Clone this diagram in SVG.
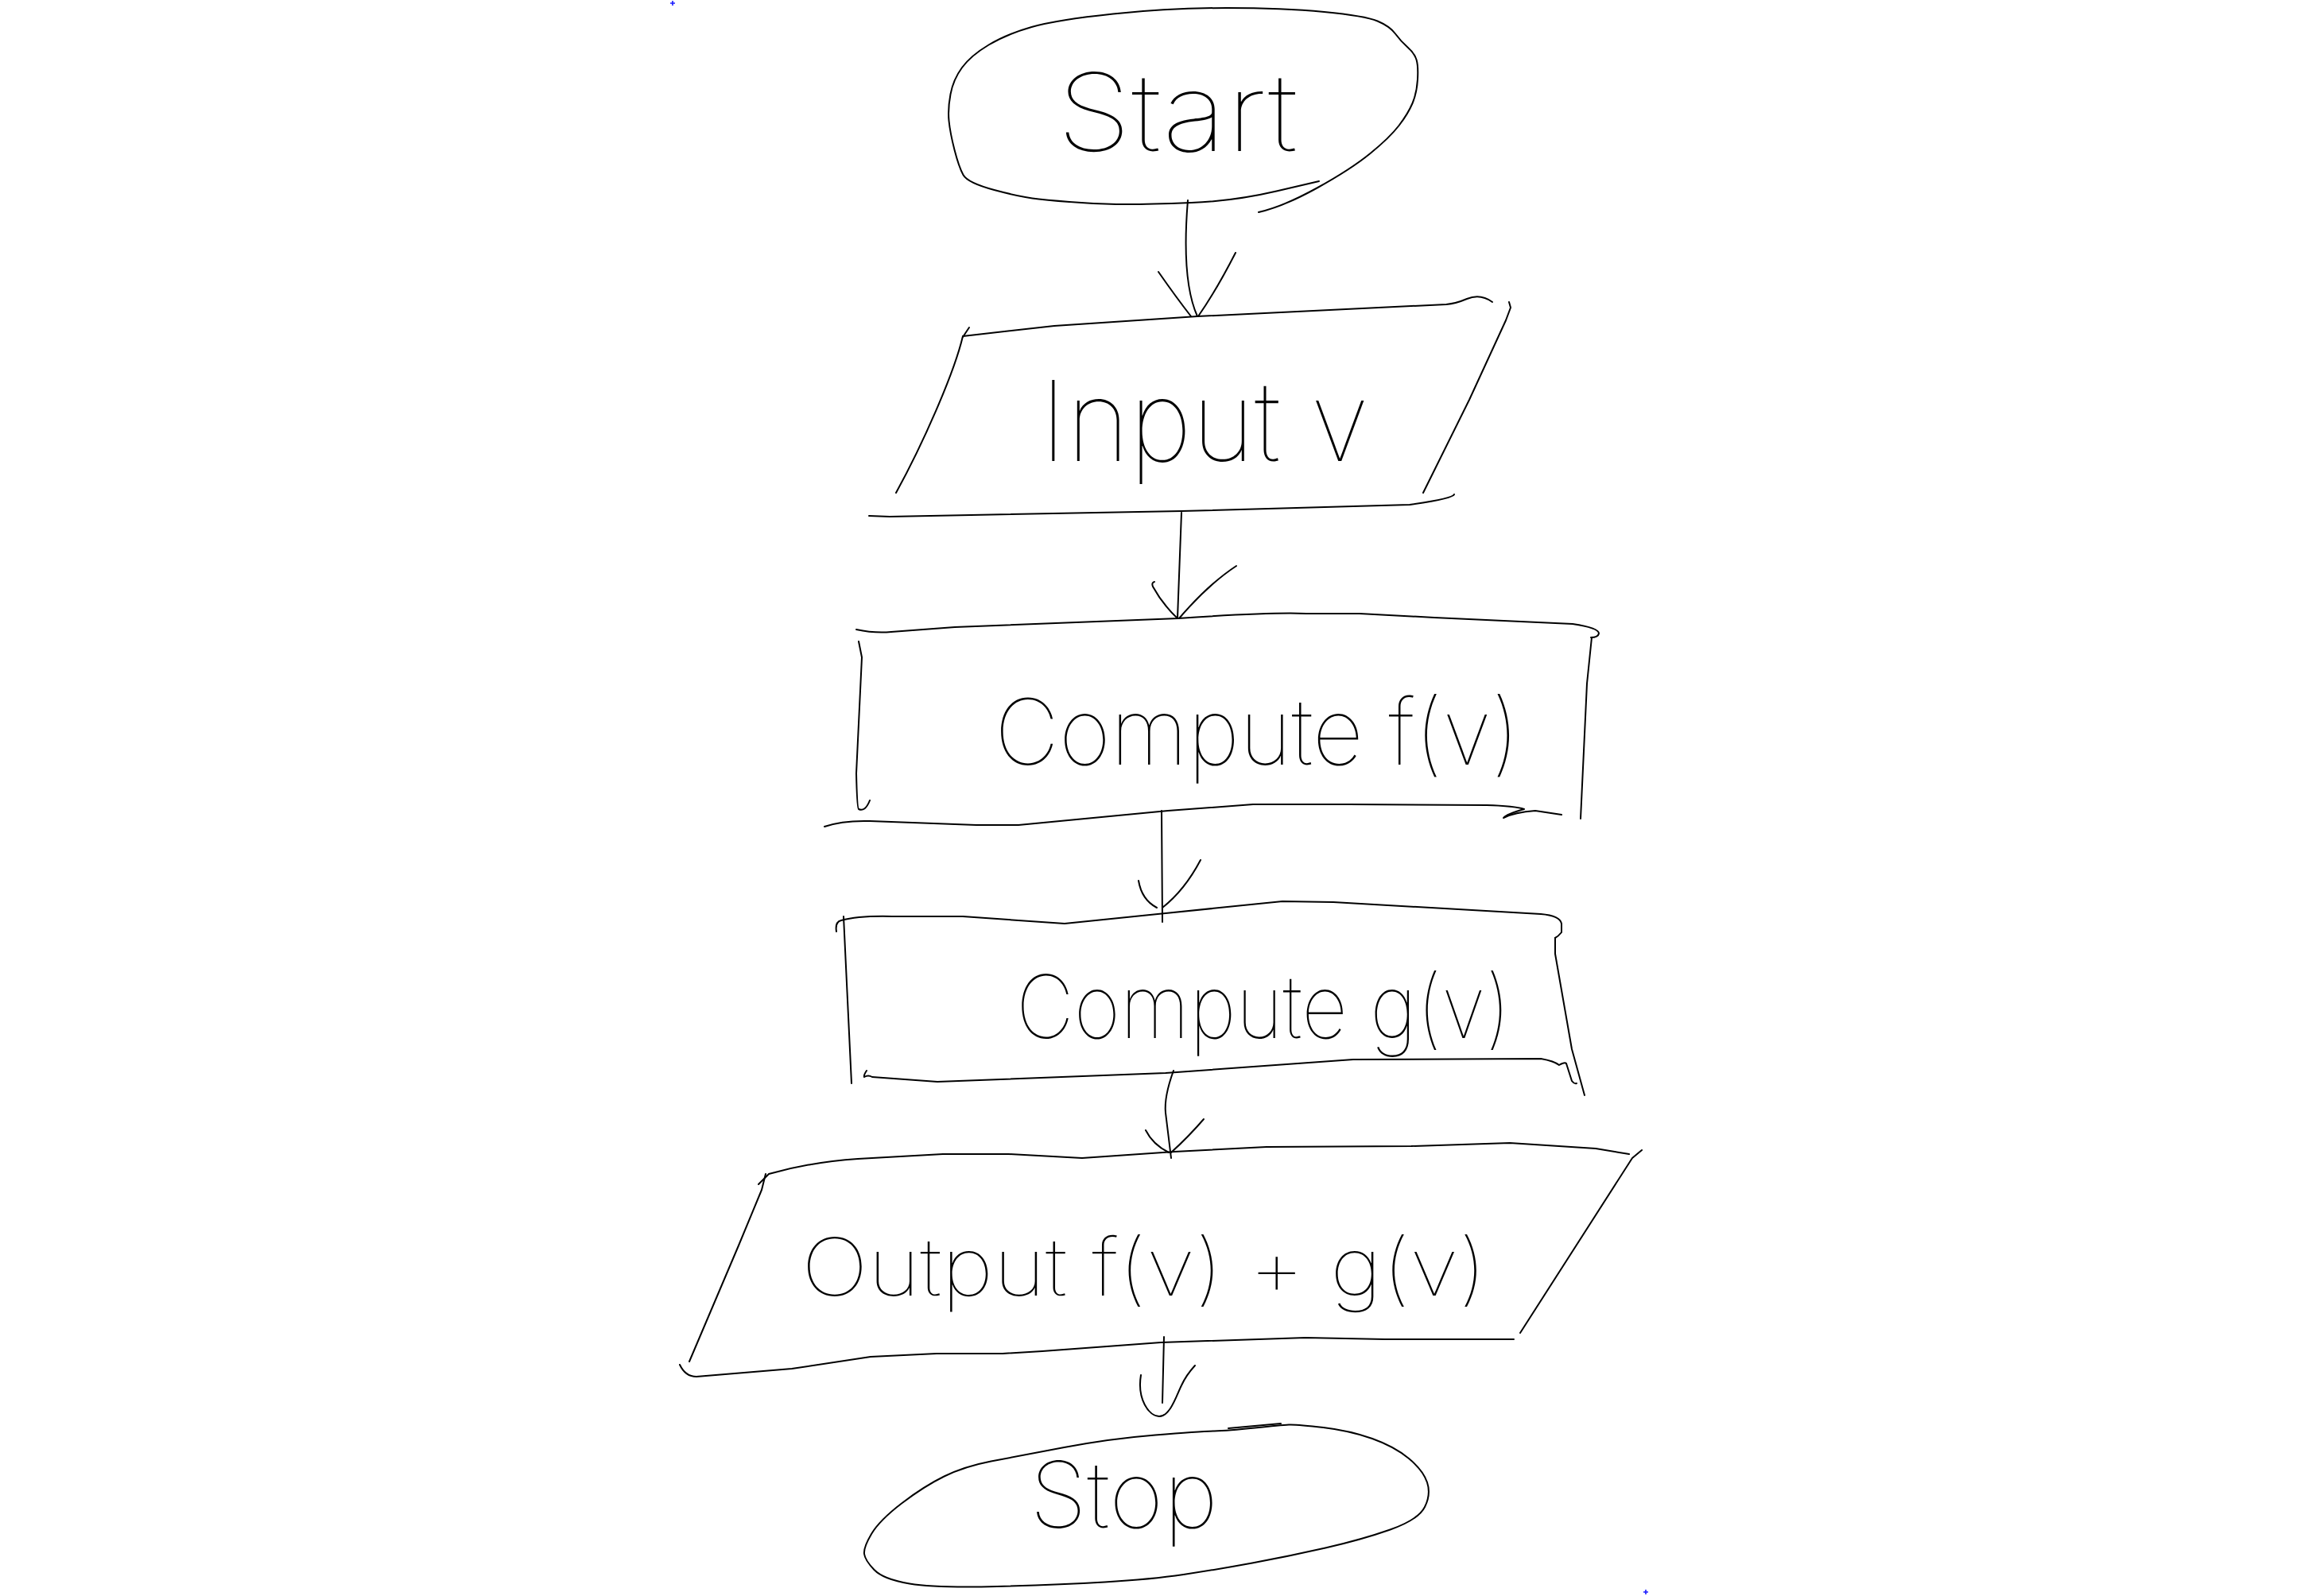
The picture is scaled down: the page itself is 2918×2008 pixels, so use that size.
<svg xmlns="http://www.w3.org/2000/svg" width="2918" height="2008" viewBox="0 0 2918 2008">
<style>
.s{fill:none;stroke:#000;stroke-width:2;stroke-linecap:round;stroke-linejoin:round}
.t{font-family:"Inter","Lato","DejaVu Sans",sans-serif;font-weight:100;fill:#000}
.m{fill:none;stroke:#1a1aff;stroke-width:1.6}
</style>
<rect width="2918" height="2008" fill="#fff"/>
<path class="m" d="M843,4 H849 M846,1 V7"/>
<path class="m" d="M2067,2003 H2073 M2070,2000 V2006"/>

<g id="start">
<path class="s" d="M1659,228 L1605.5,240.5 Q1552,253 1498.5,255 Q1445,257 1418,257 Q1391,257 1360,255 Q1329,253 1306.5,250.5 Q1284,248 1250.5,239 Q1217,230 1211.5,220 Q1206,210 1200.5,188.5 Q1195,167 1193.5,152 Q1192,137 1195.5,118.5 Q1199,100 1210,85 Q1221,70 1243.5,56.5 Q1266,43 1297.5,34 Q1329,25 1400,17.5 Q1471,10 1542.5,10 Q1614,10 1665.5,15 Q1717,20 1732.5,26.5 Q1748,33 1755,42.5 Q1762,52 1770.5,59.5 Q1779,67 1781.5,75 Q1784,83 1783,100 Q1782,117 1776.5,130 Q1771,143 1759.5,158 Q1748,173 1723.5,193 Q1699,213 1656.5,236.5 Q1614,260 1583,267"/>
<text class="t" x="1329" y="190" font-size="135" textLength="303" lengthAdjust="spacingAndGlyphs">Start</text>
</g>

<g id="input">
<path class="s" d="M1211,423 L1326,410 L1506,398 L1819,383 Q1831,382 1845,376 Q1862,369 1877,380"/>
<path class="s" d="M1219,412 L1211,424"/>
<path class="s" d="M1211,423 C1200,470 1160,560 1127,620"/>
<path class="s" d="M1898,380 L1900,387 L1894,403 L1848,503 L1790,620"/>
<path class="s" d="M1093,649 L1119,650 L1486,643 L1773,635 Q1828,627 1829,622"/>
<text class="t" x="1308" y="580" font-size="140" textLength="414" lengthAdjust="spacingAndGlyphs">Input v</text>
</g>

<g id="computeF">
<path class="s" d="M1077,792 Q1100,797 1121,795 L1201,789 L1482,778 Q1600,770 1643,772 L1710,772 L1804,777 L1978,785 Q2011,790 2011,797 Q2010,802 2001,802"/>
<path class="s" d="M1080,807 L1084,827 L1077,973 Q1078,1017 1080,1018 Q1088,1022 1094,1007"/>
<path class="s" d="M2002,802 L1996,860 L1988,1030"/>
<path class="s" d="M1037,1040 Q1060,1032 1094,1033 L1228,1038 L1281,1038 L1469,1020 L1576,1012 L1696,1012 L1870,1013 Q1905,1014 1917,1018 Q1895,1024 1891,1029 Q1905,1022 1931,1020 L1964,1025"/>
<text class="t" x="1251" y="962" font-size="115" textLength="660" lengthAdjust="spacingAndGlyphs">Compute f(v)</text>
</g>

<g id="computeG">
<path class="s" d="M1052,1172 Q1050,1160 1058,1158 Q1080,1152 1122,1153 L1211,1153 L1339,1162 L1466,1149 L1613,1134 L1677,1135 L1817,1143 L1938,1150 Q1962,1152 1964,1162 L1964,1173 Q1960,1178 1956,1180"/>
<path class="s" d="M1061,1153 L1071,1363"/>
<path class="s" d="M1956,1180 L1956,1200 L1977,1320 L1993,1378"/>
<path class="s" d="M1090,1347 Q1086,1353 1087,1355 Q1092,1352 1097,1355 L1179,1361 L1466,1350 L1702,1333 L1938,1332 Q1955,1335 1961,1340 Q1968,1336 1970,1338 L1977,1360 Q1980,1364 1983,1363"/>
<text class="t" x="1278" y="1306" font-size="110" textLength="622" lengthAdjust="spacingAndGlyphs">Compute g(v)</text>
</g>

<g id="output">
<path class="s" d="M954,1490 Q962,1482 967,1477 Q1020,1462 1079,1458 L1186,1452 L1269,1452 L1361,1457 L1477,1449 L1593,1443 L1775,1442 L1899,1438 L2007,1445 L2049,1452"/>
<path class="s" d="M963,1477 L958,1497 L929,1567 L867,1713"/>
<path class="s" d="M2065,1447 L2053,1457 L1912,1677"/>
<path class="s" d="M855,1717 Q862,1732 876,1732 L996,1722 L1095,1707 L1178,1703 L1261,1703 L1311,1700 L1460,1689 L1642,1683 L1742,1685 L1904,1685"/>
<text class="t" x="1008" y="1630" font-size="100" textLength="862" lengthAdjust="spacingAndGlyphs">Output f(v) + g(v)</text>
</g>

<g id="stop">
<path class="s" d="M1578,1796.5 Q1611,1793 1621,1792.5 Q1631,1792 1664.5,1796 Q1698,1800 1726,1810 Q1754,1820 1772,1835 Q1790,1850 1795,1865 Q1800,1880 1792,1896 Q1784,1912 1748.5,1924.5 Q1713,1937 1667,1947.5 Q1621,1958 1575,1966.5 Q1529,1975 1488.5,1981 Q1448,1987 1389.5,1990.5 Q1331,1994 1254,1996 Q1177,1998 1144,1992.5 Q1111,1987 1099.5,1975 Q1088,1963 1087,1955 Q1086,1947 1096,1930 Q1106,1913 1134,1891.5 Q1162,1870 1187.5,1857.5 Q1213,1845 1246.5,1838.5 Q1280,1832 1338.5,1821 Q1397,1810 1453,1805.5 Q1509,1801 1527,1800.5 Q1545,1800 1578,1796.5 Z"/>
<path class="s" d="M1545,1797 L1611,1791"/>
<text class="t" x="1295" y="1922" font-size="115" textLength="237" lengthAdjust="spacingAndGlyphs">Stop</text>
</g>

<g id="connectors">
<path class="s" d="M1494,252 C1490,300 1489,360 1506,398"/>
<path class="s" d="M1457,342 Q1480,375 1498,398 M1554,318 Q1530,365 1507,398"/>
<path class="s" d="M1486,645 L1481,778"/>
<path class="s" d="M1452,732 Q1448,733 1450,738 Q1462,760 1481,778 M1555,712 Q1520,735 1483,778"/>
<path class="s" d="M1461,1020 L1462,1160"/>
<path class="s" d="M1432,1108 Q1436,1132 1455,1142 M1510,1082 Q1490,1120 1462,1142"/>
<path class="s" d="M1476,1347 Q1464,1380 1466,1400 L1473,1457"/>
<path class="s" d="M1441,1422 Q1450,1440 1470,1450 M1514,1408 Q1495,1430 1473,1450"/>
<path class="s" d="M1464,1682 L1462,1765"/>
<path class="s" d="M1435,1730 C1430,1760 1445,1782 1458,1782 C1472,1782 1480,1755 1486,1743 Q1492,1730 1503,1718"/>
</g>
</svg>
